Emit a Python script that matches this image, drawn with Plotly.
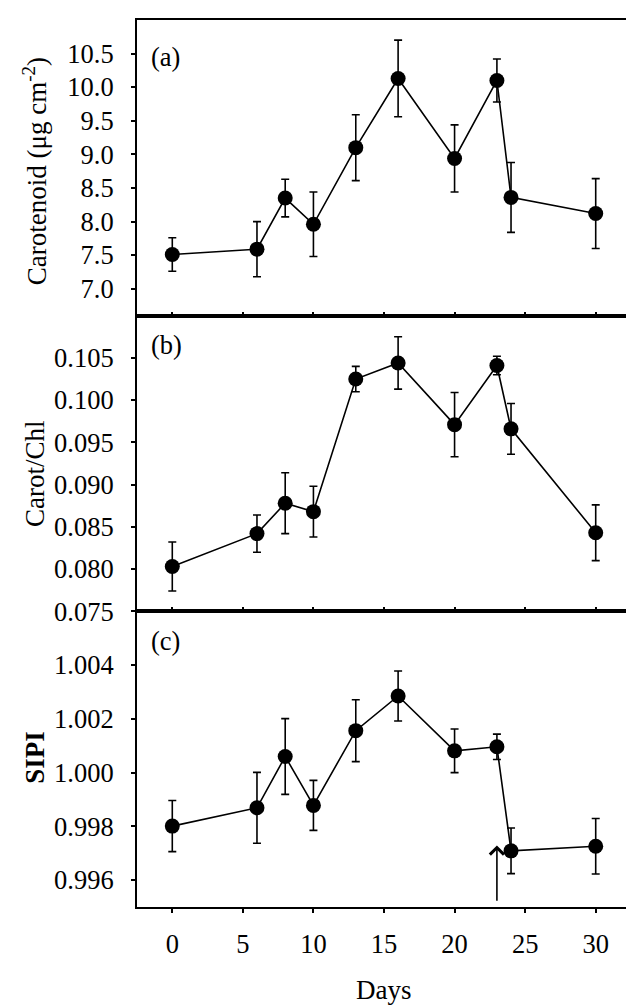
import plotly.graph_objects as go
from plotly.subplots import make_subplots

days = [0, 6, 8, 10, 13, 16, 20, 23, 24, 30]

carotenoid = [7.51, 7.59, 8.35, 7.96, 9.10, 10.13, 8.94, 10.10, 8.36, 8.12]
carotenoid_err = [0.25, 0.41, 0.28, 0.48, 0.49, 0.57, 0.50, 0.32, 0.52, 0.52]

carot_chl = [0.0803, 0.0842, 0.0878, 0.0868, 0.1025, 0.1044, 0.0971, 0.1041, 0.0966, 0.0843]
carot_chl_err = [0.0029, 0.0022, 0.0036, 0.0030, 0.0015, 0.0031, 0.0038, 0.0011, 0.0030, 0.0033]

sipi = [0.99801, 0.99869, 1.00060, 0.99878, 1.00156, 1.00285, 1.00081, 1.00096, 0.99709, 0.99726]
sipi_err = [0.00095, 0.00132, 0.00141, 0.00093, 0.00115, 0.00093, 0.00081, 0.00047, 0.00085, 0.00103]

x_ticks = [0, 5, 10, 15, 20, 25, 30]
a_ticks = [7.0, 7.5, 8.0, 8.5, 9.0, 9.5, 10.0, 10.5]
b_ticks = [0.075, 0.080, 0.085, 0.090, 0.095, 0.100, 0.105]
c_ticks = [0.996, 0.998, 1.000, 1.002, 1.004]

arrow_day = 23
arrow_tip = 0.99729
arrow_base = 0.99518

FONT = "Liberation Serif"
FS = 26.5
TFS = 27

fig = make_subplots(rows=3, cols=1, shared_xaxes=True, vertical_spacing=0)

series = [(carotenoid, carotenoid_err), (carot_chl, carot_chl_err), (sipi, sipi_err)]
for i, (vals, errs) in enumerate(series, start=1):
    fig.add_trace(go.Scatter(
        x=days, y=vals, mode="lines+markers",
        line=dict(color="black", width=1.6),
        marker=dict(color="black", size=15),
        error_y=dict(type="data", array=errs, visible=True,
                     color="black", thickness=1.6, width=4),
        showlegend=False), row=i, col=1)

common_x = dict(range=[-2.5, 32.5], showline=True, linecolor="black", linewidth=2,
                mirror=True, showgrid=False, zeroline=False, tickvals=x_ticks,
                ticklen=4, tickwidth=1.5, tickcolor="black",
                tickfont=dict(family=FONT, size=FS, color="black"))
fig.update_xaxes(**common_x)
fig.update_xaxes(ticks="inside", row=1, col=1)
fig.update_xaxes(ticks="inside", row=2, col=1)
fig.update_xaxes(ticks="outside", showticklabels=True, ticklabelstandoff=8, row=3, col=1)

common_y = dict(showline=True, linecolor="black", linewidth=2, mirror=True,
                showgrid=False, zeroline=False, ticks="outside", ticklen=4,
                tickwidth=1.5, tickcolor="black", ticklabelstandoff=12,
                tickfont=dict(family=FONT, size=FS, color="black"))
fig.update_yaxes(**common_y)
fig.update_yaxes(range=[6.6, 11.0], tickvals=a_ticks, tickformat=".1f", row=1, col=1)
fig.update_yaxes(range=[0.075, 0.110], tickvals=b_ticks, tickformat=".3f", row=2, col=1)
fig.update_yaxes(range=[0.995, 1.006], tickvals=c_ticks, tickformat=".3f", row=3, col=1)

for lab, xr, yr, yy in [("(a)", "x domain", "y domain", 0.875),
                        ("(b)", "x2 domain", "y2 domain", 0.90),
                        ("(c)", "x3 domain", "y3 domain", 0.90)]:
    fig.add_annotation(text=lab, xref=xr, yref=yr, x=0.024, y=yy,
                       xanchor="left", yanchor="middle", showarrow=False,
                       font=dict(family=FONT, size=FS, color="black"))

W = 495.7
def px_to_paper(px):
    return (px - 129.3) / W

for txt, yc in [("Carotenoid (μg cm<sup>-2</sup>)", 1 - (163 - 11.7) / 887.6),
                ("Carot/Chl", 1 - (466 - 11.7) / 887.6),
                ("<b>SIPI</b>", 1 - (750 - 11.7) / 887.6)]:
    fig.add_annotation(text=txt, xref="paper", yref="paper", x=px_to_paper(27), y=yc,
                       xanchor="center", yanchor="middle", textangle=-90, showarrow=False,
                       font=dict(family=FONT, size=TFS, color="black"))

fig.add_annotation(text="Days", xref="paper", yref="paper", x=0.5,
                   y=-(982 - 899.3) / 887.6, xanchor="center", yanchor="middle",
                   showarrow=False, font=dict(family=FONT, size=TFS, color="black"))

fig.add_annotation(x=arrow_day, y=arrow_tip, ax=arrow_day, ay=arrow_base,
                   xref="x3", yref="y3", axref="x3", ayref="y3", text="",
                   showarrow=True, arrowhead=4, arrowsize=1.7, arrowwidth=1.6,
                   arrowcolor="black", standoff=0, startstandoff=0)

fig.update_layout(width=634, height=1007, plot_bgcolor="white", paper_bgcolor="white",
                  margin=dict(l=129.3, r=9, t=11.7, b=107.7), showlegend=False)

fig.write_html("out.html")
